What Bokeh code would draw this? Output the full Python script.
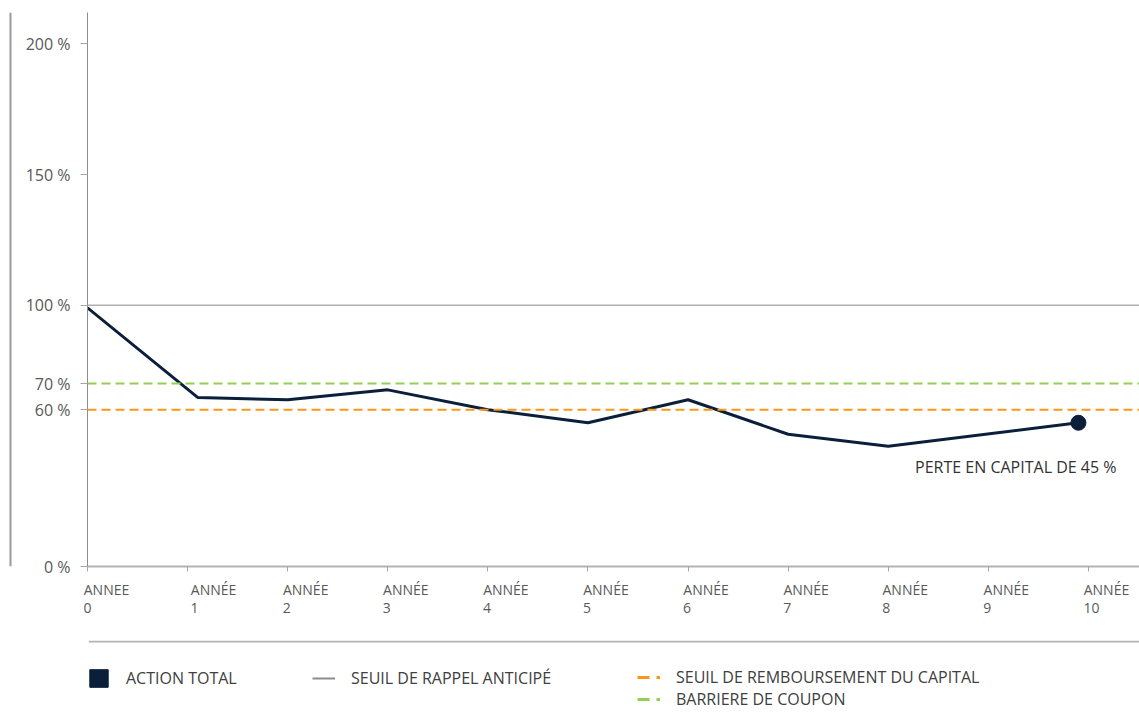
from bokeh.plotting import figure
from bokeh.models import Span, Label, Legend, LegendItem, FixedTicker, LinearAxis
from bokeh.layouts import row, column
from bokeh.embed import file_html
from bokeh.resources import INLINE

# ---------------- data ----------------
years = [0, 1.1, 2, 3, 4, 5, 6, 7, 8, 9.9]
action_total = [99, 64.7, 63.8, 67.6, 60, 55, 63.8, 50.6, 46, 55]
seuil_rappel = 100
seuil_remboursement = 60
barriere_coupon = 70

x_ticks = [0, 1, 2, 3, 4, 5, 6, 7, 8, 9, 10]
x_labels_word = ["ANNEE", "ANNÉE", "ANNÉE", "ANNÉE", "ANNÉE", "ANNÉE",
                 "ANNÉE", "ANNÉE", "ANNÉE", "ANNÉE", "ANNÉE"]
x_labels_num = ["0", "1", "2", "3", "4", "5", "6", "7", "8", "9", "10"]
y_ticks = [0, 60, 70, 100, 150, 200]
y_labels = ["0 %", "60 %", "70 %", "100 %", "150 %", "200 %"]

legend_labels = ["ACTION TOTAL", "SEUIL DE RAPPEL ANTICIPÉ",
                 "SEUIL DE REMBOURSEMENT DU CAPITAL", "BARRIERE DE COUPON"]
annotation = "PERTE EN CAPITAL DE 45 %"

# ---------------- styles ----------------
FONT = "Open Sans"
NAVY = "#0b1f3a"
GRAY_LINE = "#b0b0b0"
ORANGE = "#f7981d"
GREEN = "#92d050"
TXT = "#595959"
PX_PER_YEAR = 100.1
# where each x label starts, in px relative to its tick (labels are left-aligned in the reference)
label_start_px = [-4, 3, -5, -5, -5, -5, -5, -5, -6, -5, -5]

# ---------------- left decoration ----------------
deco = figure(width=14, height=640, x_range=(0, 14), y_range=(0, 1),
              output_backend="svg", toolbar_location=None,
              x_axis_type=None, y_axis_type=None,
              min_border_left=0, min_border_right=0, min_border_top=12, min_border_bottom=74)
deco.outline_line_color = None
deco.grid.visible = False
deco.add_layout(Span(location=10, dimension="height", line_color="#9a9a9a", line_width=2))

# ---------------- main chart ----------------
p = figure(width=1125, height=640, x_range=(0, 10.51), y_range=(0, 212),
           output_backend="svg", toolbar_location=None,
           min_border_left=73, min_border_right=0, min_border_top=12, min_border_bottom=74)
p.grid.visible = False
p.outline_line_color = None

p.add_layout(Span(location=seuil_rappel, dimension="width", line_color=GRAY_LINE, line_width=1.5))
p.add_layout(Span(location=barriere_coupon, dimension="width", line_color=GREEN, line_width=2,
                  line_dash="9 5"))
p.add_layout(Span(location=seuil_remboursement, dimension="width", line_color=ORANGE, line_width=2,
                  line_dash="9 5"))

p.line(years, action_total, line_color=NAVY, line_width=3)
p.scatter([years[-1]], [action_total[-1]], size=15, fill_color=NAVY, line_color=NAVY)

p.add_layout(Label(x=10.28, y=38, text=annotation, text_align="right", text_baseline="middle",
                   text_font=FONT, text_font_size="16px", text_color="#333333"))

# y axis
yax = p.yaxis[0]
yax.ticker = FixedTicker(ticks=y_ticks)
yax.major_label_overrides = {t: l for t, l in zip(y_ticks, y_labels)}
yax.minor_tick_line_color = None
yax.axis_line_color = "#8c8c8c"
yax.axis_line_width = 1
yax.major_tick_line_color = "#a6a6a6"
yax.major_tick_out = 7
yax.major_tick_in = 0
yax.major_label_standoff = 10
yax.major_label_text_font = FONT
yax.major_label_text_font_size = "16px"
yax.major_label_text_color = TXT
yax.major_label_text_baseline = "alphabetic"

# x axis: line + tick marks only
xax = p.xaxis[0]
xax.ticker = FixedTicker(ticks=x_ticks)
xax.major_label_overrides = {t: "" for t in x_ticks}
xax.minor_tick_line_color = None
xax.axis_line_color = "#b3b3b3"
xax.axis_line_width = 2
xax.major_tick_line_color = "#a6a6a6"
xax.major_tick_out = 5
xax.major_tick_in = 0
xax.major_label_standoff = 0


def label_axis(labels, standoff):
    # centre each label half its width to the right of where it starts, so it reads left-aligned
    half = [23 if len(s) > 2 else 4 * len(s) for s in labels]
    ticks = [t + (s0 + h) / PX_PER_YEAR for t, s0, h in zip(x_ticks, label_start_px, half)]
    ax = LinearAxis(ticker=FixedTicker(ticks=ticks),
                    major_label_overrides={tk: s for tk, s in zip(ticks, labels)},
                    axis_line_color=None, major_tick_line_color=None, minor_tick_line_color=None,
                    major_tick_out=0, major_tick_in=0, major_label_standoff=standoff,
                    major_label_text_font=FONT, major_label_text_font_size="14px",
                    major_label_text_color=TXT)
    p.add_layout(ax, "below")


label_axis(x_labels_word, 8)
label_axis(x_labels_num, 1)

# ---------------- legend strip ----------------
lf = figure(width=1139, height=70, x_range=(0, 1), y_range=(0, 70),
            output_backend="svg", toolbar_location=None,
            x_axis_type=None, y_axis_type=None,
            min_border_left=88, min_border_right=0, min_border_top=0, min_border_bottom=0)
lf.grid.visible = False
lf.outline_line_color = None
lf.add_layout(Span(location=69, dimension="width", line_color="#b3b3b3", line_width=2))

r_action = lf.rect(x=[-5], y=[-5], width=1, height=1, fill_color=NAVY, line_color=NAVY)
r_rappel = lf.line(x=[-5, -4], y=[-5, -5], line_color="#8c8c8c", line_width=2)
r_remb = lf.line(x=[-5, -4], y=[-5, -5], line_color=ORANGE, line_width=3, line_dash="12 7")
r_coupon = lf.line(x=[-5, -4], y=[-5, -5], line_color=GREEN, line_width=3, line_dash="12 7")

common = dict(padding=0, margin=0, border_line_color=None, background_fill_alpha=0,
              label_text_font=FONT, label_text_font_size="16px", label_text_color="#404040",
              glyph_width=23, label_standoff=16)

for lab, rend, loc, gh in [(legend_labels[0], r_action, (-1, 21), 22),
                           (legend_labels[1], r_rappel, (224, 21), 22),
                           (legend_labels[2], r_remb, (549, 22), 22),
                           (legend_labels[3], r_coupon, (549, 0), 14)]:
    lf.add_layout(Legend(items=[LegendItem(label=lab, renderers=[rend])], location=loc,
                         glyph_height=gh, label_height=gh, **common))

layout = column(row(deco, p), lf)

open("out.html", "w").write(file_html(layout, INLINE))
